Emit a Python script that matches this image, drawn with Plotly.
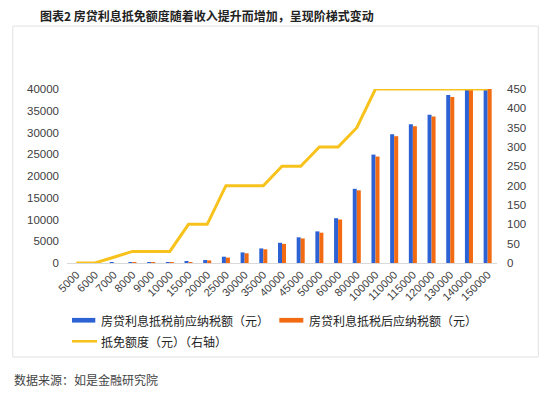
import plotly.graph_objects as go

categories = ["5000", "6000", "7000", "8000", "9000", "10000", "15000", "20000", "25000",
              "30000", "35000", "40000", "45000", "50000", "60000", "80000", "100000",
              "110000", "115000", "120000", "130000", "140000", "150000"]
tax_before = [0, 0, 15, 45, 75, 105, 330, 690, 1450, 2430, 3350, 4650, 5900, 7270, 10300,
              17050, 24920, 29600, 31900, 34100, 38620, 43100, 47600]
tax_after = [0, 0, 0, 15, 45, 75, 230, 590, 1250, 2230, 3150, 4400, 5650, 6970, 10000,
             16700, 24470, 29150, 31450, 33650, 38170, 42650, 47150]
deduction = [0, 0, 15, 30, 30, 30, 100, 100, 200, 200, 200, 250, 250, 300, 300, 350, 450,
             450, 450, 450, 450, 450, 450]
left_ticks = [0, 5000, 10000, 15000, 20000, 25000, 30000, 35000, 40000]
right_ticks = [0, 50, 100, 150, 200, 250, 300, 350, 400, 450]

title_text = "图表2 房贷利息抵免额度随着收入提升而增加，呈现阶梯式变动"
source_text = "数据来源：如是金融研究院"
names = ["房贷利息抵税前应纳税额（元）", "房贷利息抵税后应纳税额（元）", "抵免额度（元）（右轴）"]

BLUE = "#2C62D3"
ORANGE = "#F26B12"
YELLOW = "#F8C21C"
CJK = "Noto Sans CJK SC"
LAT = "Liberation Sans, Arial, sans-serif"

W, H = 550, 393
L, R, T, B = 66.7, 496.7, 89.0, 263.3


def px(x):
    return (x - L) / (R - L)


def py(y):
    return (B - y) / (B - T)


fig = go.Figure()
fig.add_trace(go.Bar(x=categories, y=tax_before, name=names[0], marker_color=BLUE,
                     marker_line_width=0, yaxis="y"))
fig.add_trace(go.Bar(x=categories, y=tax_after, name=names[1], marker_color=ORANGE,
                     marker_line_width=0, yaxis="y"))
fig.add_trace(go.Scatter(x=categories, y=deduction, name=names[2], mode="lines",
                         line=dict(color=YELLOW, width=3), yaxis="y2", cliponaxis=False))

shapes = [
    dict(type="rect", xref="paper", yref="paper", x0=px(12.5), x1=px(538), y0=py(26),
         y1=py(357.5), line=dict(color="#E2E2E2", width=1), fillcolor="rgba(0,0,0,0)",
         layer="below"),
    dict(type="rect", xref="paper", yref="paper", x0=px(71.7), x1=px(95), y0=py(323),
         y1=py(318.3), line_width=0, fillcolor=BLUE),
    dict(type="rect", xref="paper", yref="paper", x0=px(279), x1=px(303), y0=py(323),
         y1=py(318.3), line_width=0, fillcolor=ORANGE),
    dict(type="line", xref="paper", yref="paper", x0=px(71.7), x1=px(96.7), y0=py(341.7),
         y1=py(341.7), line=dict(color=YELLOW, width=2.5)),
]

annotations = [
    dict(text="<b>" + title_text + "</b>", xref="paper", yref="paper", x=px(37.5), y=py(15.8),
         xanchor="left", yanchor="middle", showarrow=False,
         font=dict(family=CJK, size=12, color="#222222")),
    dict(text=source_text, xref="paper", yref="paper", x=px(12), y=py(379.5),
         xanchor="left", yanchor="middle", showarrow=False,
         font=dict(family=CJK, size=12, color="#444444")),
    dict(text=names[0], xref="paper", yref="paper", x=px(99), y=py(320.7),
         xanchor="left", yanchor="middle", showarrow=False,
         font=dict(family=CJK, size=12, color="#222222")),
    dict(text=names[1], xref="paper", yref="paper", x=px(306.5), y=py(320.7),
         xanchor="left", yanchor="middle", showarrow=False,
         font=dict(family=CJK, size=12, color="#222222")),
    dict(text=names[2], xref="paper", yref="paper", x=px(99), y=py(341.7),
         xanchor="left", yanchor="middle", showarrow=False,
         font=dict(family=CJK, size=12, color="#222222")),
]

fig.update_layout(
    width=W, height=H,
    margin=dict(l=L, r=W - R, t=T, b=H - B, pad=0),
    paper_bgcolor="white", plot_bgcolor="white",
    showlegend=False,
    barmode="group", bargap=0.57, bargroupgap=0,
    font=dict(family=LAT, size=11, color="#404040"),
    xaxis=dict(type="category", tickangle=-45, showgrid=False, zeroline=False,
               showline=True, linecolor="#D9D9D9", linewidth=1, ticks="",
               tickfont=dict(family=LAT, size=11, color="#404040")),
    yaxis=dict(range=[0, 40000], tickvals=left_ticks, tickformat="d", showgrid=False,
               zeroline=False, showline=False, ticks="", ticklabelstandoff=7,
               tickfont=dict(family=LAT, size=11.5, color="#404040")),
    yaxis2=dict(range=[0, 450], tickvals=right_ticks, tickformat="d", overlaying="y",
                side="right", showgrid=False, zeroline=False, showline=False, ticks="",
                ticklabelstandoff=9,
                tickfont=dict(family=LAT, size=11.5, color="#404040")),
    shapes=shapes,
    annotations=annotations,
)

fig.write_html("out.html", config={"displayModeBar": False},
               post_script="document.body.style.margin='0';document.body.style.overflow='hidden';")
